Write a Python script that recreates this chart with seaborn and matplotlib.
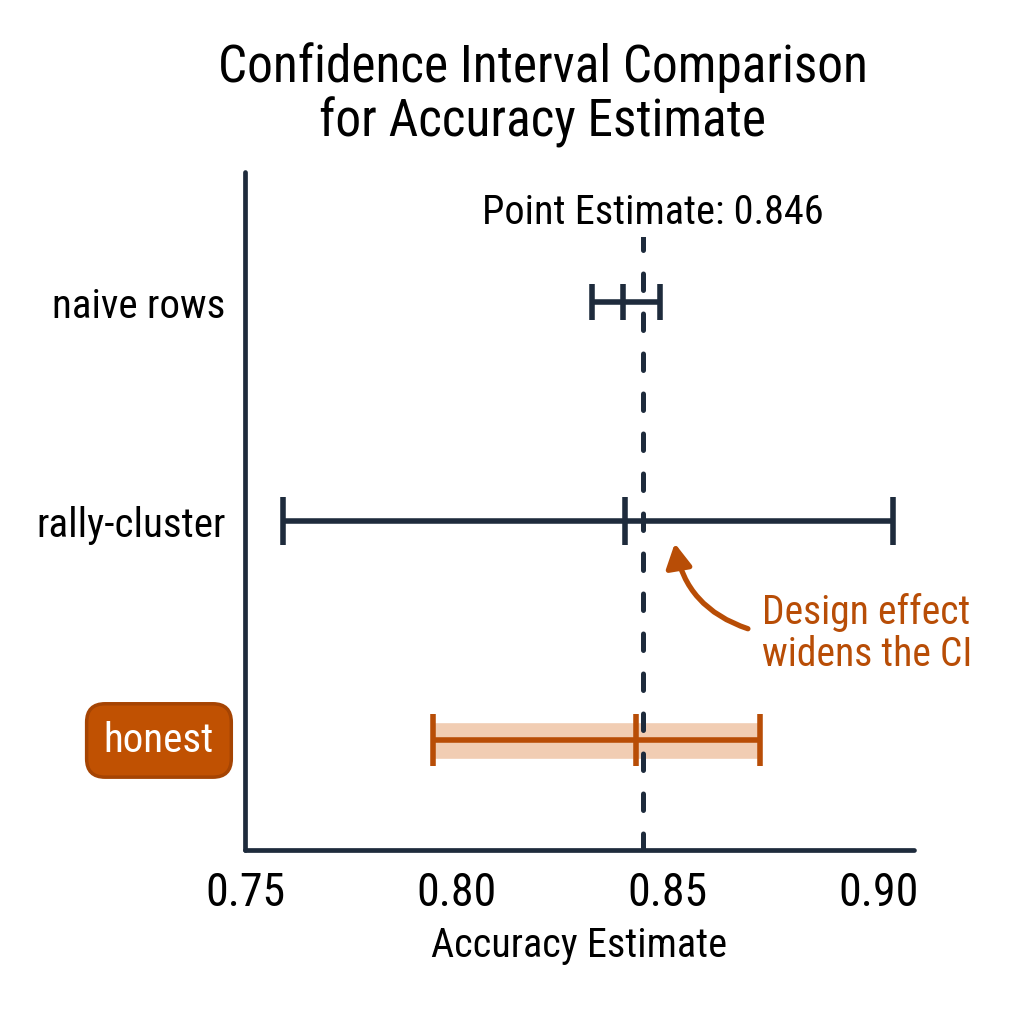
import matplotlib
matplotlib.use("Agg")
import matplotlib.pyplot as plt
from matplotlib import font_manager
import seaborn as sns
import pandas as pd

# data
methods = ["naive rows", "rally-cluster", "honest"]
estimates = [0.8395, 0.8400, 0.8425]
ci_low = [0.8322, 0.7589, 0.7945]
ci_high = [0.8482, 0.9033, 0.8718]
point_estimate = 0.8442
point_label = "Point Estimate: 0.846"

df = pd.DataFrame({"method": methods, "est": estimates, "lo": ci_low, "hi": ci_high})

sns.set_theme(style="white")
avail = {f.name for f in font_manager.fontManager.ttflist}
fams = [f for f in ["Roboto Condensed", "Liberation Sans Narrow", "Roboto"] if f in avail]
plt.rcParams["font.family"] = fams + ["DejaVu Sans"]
plt.rcParams["text.color"] = "black"
plt.rcParams["axes.labelcolor"] = "black"
plt.rcParams["xtick.color"] = "black"
plt.rcParams["ytick.color"] = "black"

NAVY = "#1e2b3c"
ORANGE = "#b84d06"
BAND = "#f1cdb3"

fig = plt.figure(figsize=(10.24, 10.24), dpi=100)
ax = fig.add_axes([245 / 1024, 1 - 850 / 1024, (914 - 245) / 1024, (850 - 172) / 1024])

ypos = list(range(len(df)))
caps = [13, 17.5, 18.5]
for i, row in df.iterrows():
    col = ORANGE if row["method"] == "honest" else NAVY
    if row["method"] == "honest":
        ax.barh(i, row["hi"] - row["lo"], left=row["lo"], height=0.165,
                color=BAND, zorder=1)
    ax.errorbar(row["est"], i, xerr=[[row["est"] - row["lo"]], [row["hi"] - row["est"]]],
                fmt="|", color=col, ecolor=col, elinewidth=4, capsize=caps[i],
                capthick=4, markersize=caps[i] * 2, markeredgewidth=4, zorder=3)

ax.axvline(point_estimate, color=NAVY, lw=3.6, ls=(0, (3.3, 4.7)),
           dash_capstyle="round", zorder=2)
ax.text(0.8465, -0.41, point_label, ha="center", va="center", fontsize=29, color="black",
        bbox=dict(boxstyle="square,pad=0.12", fc="white", ec="none"), zorder=4)

ax.set_xlim(0.75, 0.9083)
ax.set_ylim(2.5, -0.595)
ax.set_xticks([0.75, 0.80, 0.85, 0.90])
ax.set_xticklabels(["0.75", "0.80", "0.85", "0.90"])
ax.set_yticks(ypos)
# the highlighted row gets a badge drawn separately
ax.set_yticklabels([m if m != "honest" else "" for m in methods])
ax.tick_params(axis="x", length=9, width=3.2, color=NAVY, labelsize=33, pad=6)
ax.tick_params(axis="y", length=0, labelsize=29.5, pad=14)
ax.text(-0.1286, methods.index("honest"), "honest", transform=ax.get_yaxis_transform(),
        ha="center", va="center", fontsize=29.5, color="white", clip_on=False,
        bbox=dict(boxstyle="round,pad=0.42,rounding_size=0.45", fc="#c05102",
                  ec="#a54403", lw=2.5))
ax.set_xlabel("Accuracy Estimate", fontsize=29, labelpad=8)
sns.despine(ax=ax)
for s in ["left", "bottom"]:
    ax.spines[s].set_color(NAVY)
    ax.spines[s].set_linewidth(3.4)
    ax.spines[s].set_capstyle("round")

ax.annotate("", xy=(0.8517, 1.10), xytext=(0.869, 1.49),
            arrowprops=dict(arrowstyle="-|>,head_length=1.2,head_width=0.65", color=ORANGE,
                            lw=3.8, connectionstyle="arc3,rad=-0.3", shrinkA=0, shrinkB=0))
ax.text(0.8723, 1.51, "Design effect\nwidens the CI", color=ORANGE, fontsize=28.5,
        ha="left", va="center", linespacing=1.1)

fig.text(0.53, 1 - 95 / 1024, "Confidence Interval Comparison\nfor Accuracy Estimate",
         ha="center", va="center", fontsize=37, linespacing=1.1)

fig.savefig("out.png", dpi=100)
